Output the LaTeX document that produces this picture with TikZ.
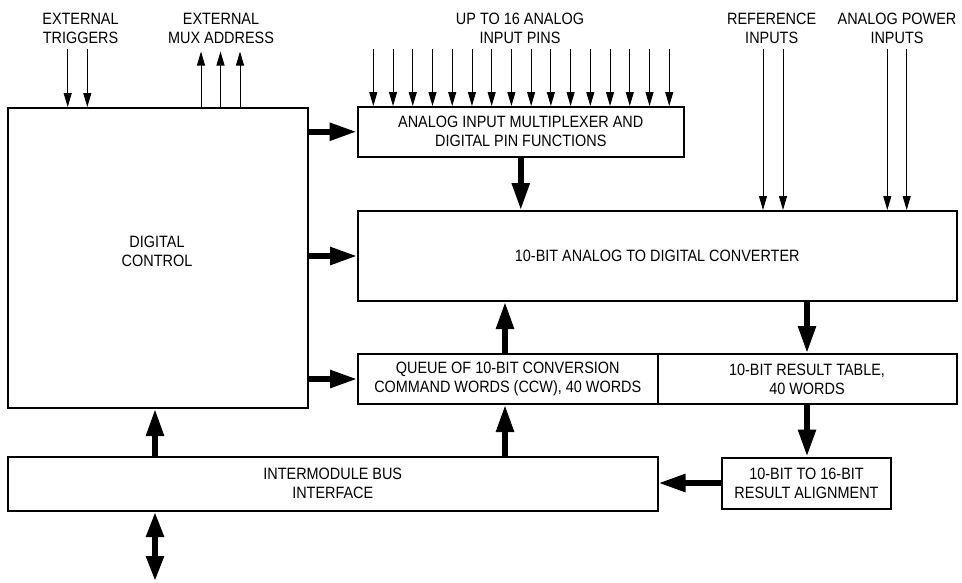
\documentclass[tikz,border=0pt]{standalone}
\usepackage{fontspec}
\setmainfont{Liberation Sans}[FakeStretch=0.88]
\usetikzlibrary{arrows.meta}
\newcommand\diagfont{\fontsize{16.4}{19}\selectfont}
\begin{document}
\begin{tikzpicture}[x=1pt,y=-1pt,
  box/.style={draw, line width=2pt, inner sep=0pt, align=center, font=\diagfont},
  inarrow/.style={line width=0.9pt, -{Triangle[length=14pt,width=8pt]}},
  fatarrow/.style={line width=5.5pt, -{Triangle[length=27pt,width=17pt]}},
  fatboth/.style={line width=5.5pt, {Triangle[length=25pt,width=17pt]}-{Triangle[length=25pt,width=17pt]}},
  lab/.style={align=center, font=\diagfont, inner sep=0pt}]
\useasboundingbox (0,0) rectangle (962,582);

% boxes
\node[box, minimum width=300pt, minimum height=300pt] (dc) at (158,258) {};
\node[lab] (dctext) at (157,251.5) {DIGITAL\\CONTROL};
\node[box, minimum width=326.5pt, minimum height=49.5pt] (mux) at (520.75,131.75) {ANALOG INPUT MULTIPLEXER AND\\DIGITAL PIN FUNCTIONS};
\node[box, minimum width=598.5pt, minimum height=90pt] (adc) at (657.25,256) {10-BIT ANALOG TO DIGITAL CONVERTER};
\node[box, minimum width=299.5pt, minimum height=50pt] (queue) at (507.75,379) {QUEUE OF 10-BIT CONVERSION\\COMMAND WORDS (CCW), 40 WORDS};
\node[box, minimum width=299pt, minimum height=50pt] (result) at (807,379) {10-BIT RESULT TABLE,\\40 WORDS};
\node[box, minimum width=649.5pt, minimum height=54.5pt] (bus) at (332.75,483.75) {INTERMODULE BUS\\INTERFACE};
\node[box, minimum width=169pt, minimum height=51pt] (align) at (806.5,483) {10-BIT TO 16-BIT\\RESULT ALIGNMENT};

% top labels
\node[lab] (ltrig) at (80.5,28.5) {EXTERNAL\\TRIGGERS};
\node[lab] (lmux) at (221,28.5) {EXTERNAL\\MUX ADDRESS};
\node[lab] (lana) at (520,28.5) {UP TO 16 ANALOG\\INPUT PINS};
\node[lab] (lref) at (771.7,28.5) {REFERENCE\\INPUTS};
\node[lab] (lpow) at (897,28.5) {ANALOG POWER\\INPUTS};

% thin input arrows
\foreach \x [count=\k] in {67.7,87.3} {
  \coordinate (t\k) at (\x,49);
  \draw[inarrow] (t\k) -- (t\k |- dc.north);
}
\foreach \x [count=\k] in {201,220.5,240} {
  \coordinate (m\k) at (\x,51.5);
  \draw[inarrow] (m\k |- dc.north) -- (m\k);
}
\foreach \i in {0,...,15} {
  \coordinate (p\i) at ({373.3+19.73*\i},49);
  \draw[inarrow] (p\i) -- (p\i |- mux.north);
}
\foreach \x [count=\k] in {763,783,887.3,906.7} {
  \coordinate (r\k) at (\x,49);
  \draw[inarrow] (r\k) -- (r\k |- adc.north);
}

% thick arrows
\coordinate (qx) at (505,0);
\coordinate (bx) at (155,0);
\coordinate (ext) at (155,581);
\draw[fatarrow] (dc.east |- mux.west) -- (mux.west);
\draw[fatarrow] (dc.east |- adc.west) -- (adc.west);
\draw[fatarrow] (dc.east |- queue.west) -- (queue.west);
\draw[fatarrow] (mux.south) -- (mux.south |- adc.north);
\draw[fatarrow] (qx |- queue.north) -- (qx |- adc.south);
\draw[fatarrow] (qx |- bus.north) -- (qx |- queue.south);
\draw[fatarrow] (bx |- bus.north) -- (bx |- dc.south);
\draw[fatboth] (bx |- bus.south) -- (ext);
\draw[fatarrow] (result.north |- adc.south) -- (result.north);
\draw[fatarrow] (result.south) -- (result.south |- align.north);
\draw[fatarrow] (align.west) -- (align.west -| bus.east);
\end{tikzpicture}
\end{document}
